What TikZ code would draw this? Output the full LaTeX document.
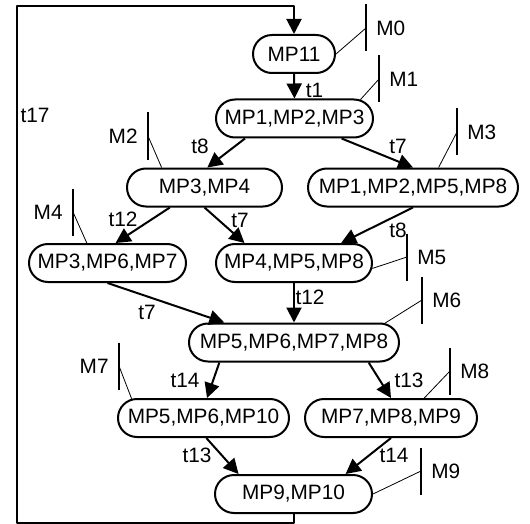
\documentclass[tikz,border=0pt]{standalone}
\usepackage{fontspec}
\setmainfont{Liberation Sans}
\usetikzlibrary{arrows.meta,positioning,shapes.misc}

\tikzset{
  markset/.style={draw, rounded rectangle, line width=1pt, minimum height=19pt, inner sep=2pt},
  flow/.style={->, line width=1pt},
  tick/.style={line width=0.6pt},
  hair/.style={line width=0.4pt},
  lbl/.style={inner sep=0pt}
}
% marking: name, node anchor, tick centre, text, side
\newcommand{\marking}[5]{%
  \coordinate (#1) at (#3);
  \draw[tick] (#1) ++(0,-23.5) -- ++(0,47);
  \draw[hair] (#2) -- (#1);
  \node[lbl, #5=5pt of #1] (#1l) {#4};
}

\begin{document}
\begin{tikzpicture}[x=0.5pt, y=-0.5pt, font=\fontsize{10.4}{12.5}\selectfont, line join=round, >={Triangle[length=7.5pt,width=7.5pt]}]
	\useasboundingbox (0,0) rectangle (530,524);
	% reachable markings
	\node[markset, minimum width=45pt]   (n0) at (294,54)    {MP11};
	\node[markset, minimum width=82.5pt] (n1) at (294.5,118.5) {MP1,MP2,MP3};
	\node[markset, minimum width=81.5pt] (n2) at (204.5,187.5) {MP3,MP4};
	\node[markset, minimum width=109pt]  (n3) at (413,187.5) {MP1,MP2,MP5,MP8};
	\node[markset, minimum width=82.5pt] (n4) at (107.5,263) {MP3,MP6,MP7};
	\node[markset, minimum width=82pt]   (n5) at (294,263)   {MP4,MP5,MP8};
	\node[markset, minimum width=109pt]  (n6) at (294,342.5) {MP5,MP6,MP7,MP8};
	\node[markset, minimum width=89.5pt] (n7) at (203.5,418) {MP5,MP6,MP10};
	\node[markset, minimum width=90pt]   (n8) at (391,418)   {MP7,MP8,MP9};
	\node[markset, minimum width=82.5pt] (n9) at (293.5,494) {MP9,MP10};
	% transitions
	\draw[flow] (n0.south) -- (n1.north);
	\draw[flow] (n1.202) -- (n2.82);
	\draw[flow] (n1.-23) -- (n3.north);
	\draw[flow] (n2.210) -- (n4.68);
	\draw[flow] (n2.south) -- (n5.158);
	\draw[flow] (n3.south) -- (n5.23);
	\draw[flow] (n4.south) -- (n6.164);
	\draw[flow] (n5.south) -- (n6.north);
	\draw[flow] (n6.195) -- (n7.80);
	\draw[flow] (n6.-15) -- (n8.north);
	\draw[flow] (n7.-82) -- (n9.160);
	\draw[flow] (n8.south) -- (n9.21);
	\coordinate (lb) at (17,523);
	\coordinate (lt) at (17,6);
	\draw[flow] (n9.south) |- (lb) -- (lt) -| (n0.north);
	% transition labels
	\node[lbl] (l1)  at (314.5,90) {t1};
	\node[lbl] (l2)  at (200,146)  {t8};
	\node[lbl] (l3)  at (398,146)  {t7};
	\node[lbl] (l4)  at (123,219)  {t12};
	\node[lbl] (l5)  at (240,220)  {t7};
	\node[lbl] (l6)  at (398,230)  {t8};
	\node[lbl] (l7)  at (147,312)  {t7};
	\node[lbl] (l8)  at (310,297)  {t12};
	\node[lbl] (l9)  at (185,380)  {t14};
	\node[lbl] (l10) at (409,380)  {t13};
	\node[lbl] (l11) at (197,455)  {t13};
	\node[lbl] (l12) at (394,455)  {t14};
	\node[lbl] (l17) at (35,115)   {t17};
	% marking names
	\marking{m0}{n0.east}{366,28}{M0}{right}
	\marking{m1}{n1.16}{379,79}{M1}{right}
	\marking{m2}{n2.155}{148,136}{M2}{left}
	\marking{m3}{n3.38}{457,132}{M3}{right}
	\marking{m4}{n4.136}{73,212}{M4}{left}
	\marking{m5}{n5.-4}{407,257}{M5}{right}
	\marking{m6}{n6.12}{422,300}{M6}{right}
	\marking{m7}{n7.165}{119,366}{M7}{left}
	\marking{m8}{n8.31}{450,371}{M8}{right}
	\marking{m9}{n9.east}{421,471}{M9}{right}
\end{tikzpicture}
\end{document}
